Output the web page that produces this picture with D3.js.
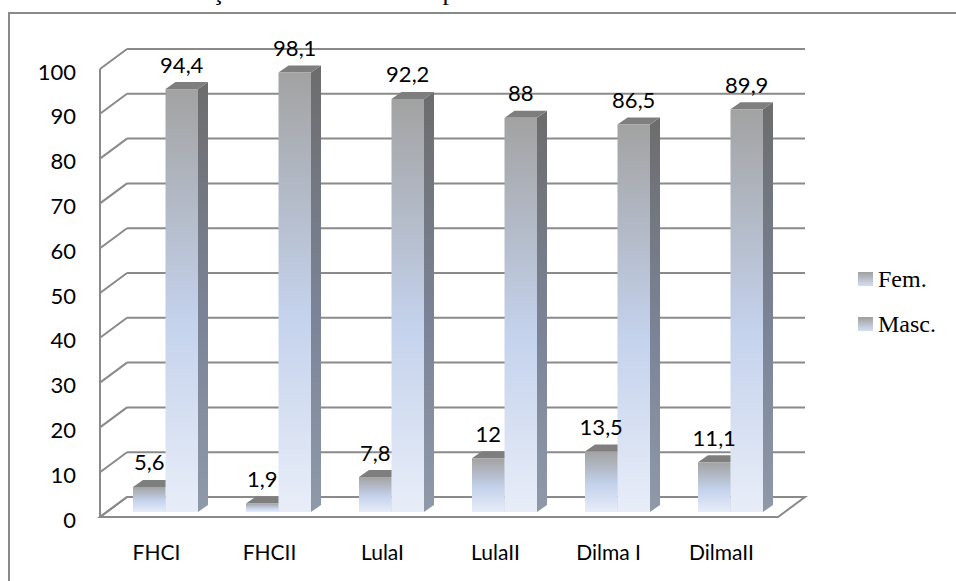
<!DOCTYPE html>
<html><head><meta charset="utf-8">
<script src="https://cdn.jsdelivr.net/npm/d3@7"></script>
<style>body{margin:0;background:#fff;overflow:hidden}</style>
</head><body><svg id="c" width="956" height="581"></svg>
<script>
const categories = ["FHCI", "FHCII", "LulaI", "LulaII", "Dilma I", "DilmaII"];
const seriesNames = ["Fem.", "Masc."];
const femValues = [5.6, 1.9, 7.8, 12, 13.5, 11.1];
const mascValues = [94.4, 98.1, 92.2, 88, 86.5, 89.9];
const yTicks = [0, 10, 20, 30, 40, 50, 60, 70, 80, 90, 100];
const titleStart = "Distribuição dos ministros";
const titleEnd = "por sexo";

const svg = d3.select("#c");
const defs = svg.append("defs");

function grad(id, stops) {
  const g = defs.append("linearGradient").attr("id", id)
    .attr("x1", 0).attr("y1", 0).attr("x2", 0).attr("y2", 1);
  stops.forEach(s => g.append("stop").attr("offset", s[0]).attr("stop-color", s[1]));
}
grad("gFront", [[0, "#a2a2a2"], [0.55, "#c4d2ec"], [1, "#e8edf8"]]);
grad("gSide", [[0, "#6c6c6c"], [0.55, "#7b8497"], [1, "#9099a8"]]);
grad("gLeg", [[0, "#9f9f9f"], [1, "#d4def3"]]);

// frame
svg.append("rect").attr("x", 9).attr("y", 13).attr("width", 1000).attr("height", 700)
  .attr("fill", "none").attr("stroke", "#8a8a8a").attr("stroke-width", 2);

// title (only descenders visible above the frame)
const title = svg.append("text").attr("y", 0)
  .attr("font-family", "Liberation Serif, Times New Roman, serif").attr("font-size", 26)
  .attr("fill", "#000");
const t1 = title.append("tspan").attr("x", 0).text(titleStart);
const t2 = title.append("tspan").attr("x", 447).text(" " + titleEnd);
try {
  const idx = titleStart.indexOf("ç");
  const p = t1.node().getStartPositionOfChar(idx);
  t1.attr("x", 212 - p.x);
} catch (e) { t1.attr("x", 100); }
t2.attr("x", 436);

// geometry
const FX0 = 100, FX1 = 778;
const DX = 27, DY = -20;      // wall depth
const BX = 9, BY = -5;        // bar plane offset
const BDX = 10, BDY = -7;     // bar depth

const y = d3.scaleLinear().domain([0, 100]).range([517, 69]);
const x = d3.scaleBand().domain(categories).range([FX0, FX1]);
const pairW = 65;
const xs = d3.scaleBand().domain(seriesNames).range([0, pairW]);

const gridColor = "#8a8a8a";
const grid = svg.append("g").attr("stroke", gridColor).attr("stroke-width", 2).attr("fill", "none");

// back wall gridlines
grid.selectAll("line.h").data(yTicks.filter(t => t > 0)).join("line")
  .attr("x1", FX0 + DX).attr("x2", FX1 + DX)
  .attr("y1", d => y(d) + DY).attr("y2", d => y(d) + DY);
// side wall diagonals
grid.selectAll("line.d").data(yTicks).join("line")
  .attr("x1", FX0).attr("y1", d => y(d))
  .attr("x2", FX0 + DX).attr("y2", d => y(d) + DY);
// vertical axis
grid.append("line").attr("x1", FX0).attr("x2", FX0).attr("y1", y(0)).attr("y2", y(100));
// floor
grid.append("path").attr("d",
  `M${FX0},${y(0)}L${FX1},${y(0)}L${FX1 + DX},${y(0) + DY}L${FX0 + DX},${y(0) + DY}Z`);

// tick labels
svg.append("g").selectAll("text").data(yTicks).join("text")
  .attr("x", 76).attr("y", d => y(d) + 2)
  .attr("text-anchor", "end").attr("dominant-baseline", "central")
  .attr("font-family", "Lato, Open Sans, sans-serif").attr("font-size", 22).attr("fill", "#000")
  .text(d => d);

// category labels
svg.append("g").selectAll("text").data(categories).join("text")
  .attr("x", d => x(d) + x.bandwidth() / 2).attr("y", 560)
  .attr("text-anchor", "middle")
  .attr("font-family", "Lato, Open Sans, sans-serif").attr("font-size", 21).attr("fill", "#000")
  .text(d => d);

// bars
const fmt = v => String(v).replace(".", ",");
const barsData = [];
categories.forEach((c, i) => {
  barsData.push({ c, s: "Fem.", v: femValues[i] });
  barsData.push({ c, s: "Masc.", v: mascValues[i] });
});
const bars = svg.append("g");
barsData.forEach(d => {
  const xl = x(d.c) + x.bandwidth() / 2 - pairW / 2 + BX + xs(d.s);
  const xr = xl + xs.bandwidth();
  const yt = y(d.v) + BY, yb = y(0) + BY;
  const g = bars.append("g");
  g.append("path").attr("fill", "url(#gSide)")
    .attr("d", `M${xr},${yt}L${xr + BDX},${yt + BDY}L${xr + BDX},${yb + BDY}L${xr},${yb}Z`);
  g.append("path").attr("fill", "#7e7e7e")
    .attr("d", `M${xl},${yt}L${xl + BDX},${yt + BDY}L${xr + BDX},${yt + BDY}L${xr},${yt}Z`);
  g.append("rect").attr("x", xl).attr("y", yt).attr("width", xr - xl).attr("height", yb - yt)
    .attr("fill", "url(#gFront)");
  svg.append("text").attr("x", (xl + xr) / 2).attr("y", yt - 25)
    .attr("text-anchor", "middle").attr("dominant-baseline", "central")
    .attr("font-family", "Lato, Open Sans, sans-serif").attr("font-size", 22).attr("fill", "#000")
    .text(fmt(d.v));
});

// legend
const leg = svg.append("g").selectAll("g").data(seriesNames).join("g")
  .attr("transform", (d, i) => `translate(858,${272 + i * 45})`);
leg.append("rect").attr("width", 15).attr("height", 14).attr("fill", "url(#gLeg)");
leg.append("text").attr("x", 20).attr("y", 15)
  .attr("font-family", "Liberation Serif, Times New Roman, serif").attr("font-size", 24).attr("fill", "#000")
  .text(d => d);
</script></body></html>
